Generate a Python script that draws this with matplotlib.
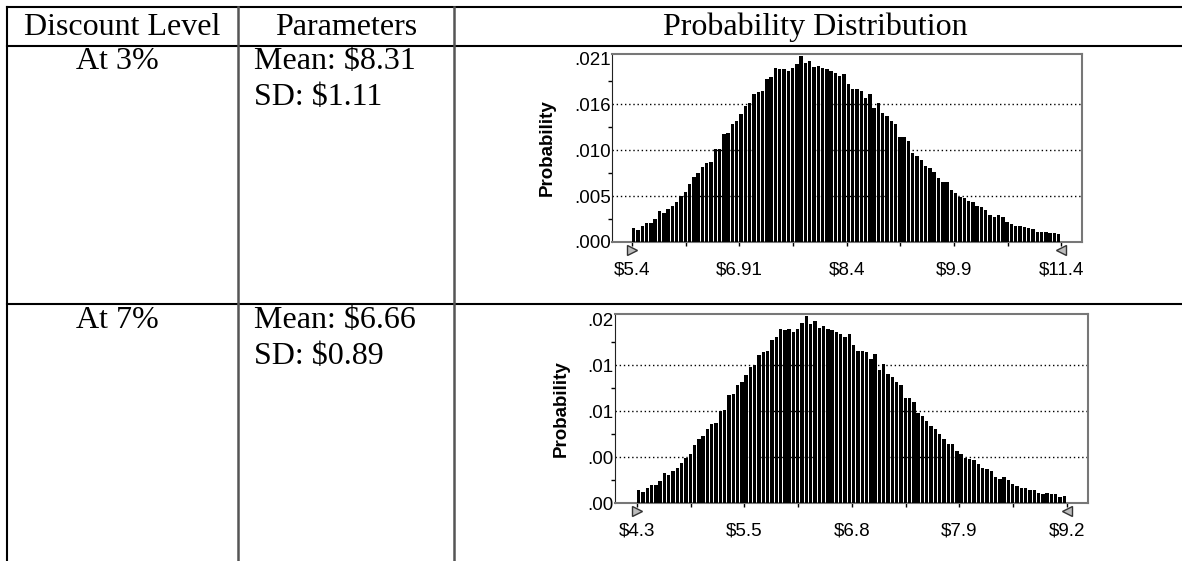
import numpy as np
import matplotlib.pyplot as plt
from matplotlib.transforms import offset_copy

# table text
headers = ['Discount Level', 'Parameters', 'Probability Distribution']
levels = ['At 3%', 'At 7%']
means = ['Mean: $8.31', 'Mean: $6.66']
sds = ['SD: $1.11', 'SD: $0.89']

# chart 1 : at 3%
x_lo_1, x_hi_1 = 5.4, 11.4
xticklabels_1 = ['$5.4', '', '$6.91', '', '$8.4', '', '$9.9', '', '$11.4']
yticklabels_1 = ['.000', '.005', '.010', '.016', '.021']
ystep_1 = 0.0052
probs_1 = [0.00155, 0.00136, 0.00184, 0.00215, 0.00215, 0.00260, 0.00354, 0.00324, 0.00370, 0.00410,
           0.00456, 0.00524, 0.00561, 0.00652, 0.00738, 0.00776, 0.00844, 0.00896, 0.00908, 0.01051,
           0.01051, 0.01217, 0.01235, 0.01334, 0.01371, 0.01446, 0.01537, 0.01567, 0.01672, 0.01699,
           0.01710, 0.01838, 0.01861, 0.01963, 0.01951, 0.01957, 0.01936, 0.01963, 0.02011, 0.02102,
           0.02019, 0.02049, 0.01981, 0.01989, 0.01963, 0.01951, 0.01936, 0.01907, 0.01877, 0.01899,
           0.01783, 0.01726, 0.01726, 0.01707, 0.01631, 0.01673, 0.01511, 0.01568, 0.01462, 0.01428,
           0.01371, 0.01334, 0.01183, 0.01183, 0.01142, 0.01003, 0.00976, 0.00927, 0.00863, 0.00833,
           0.00788, 0.00727, 0.00675, 0.00675, 0.00588, 0.00550, 0.00505, 0.00494, 0.00467, 0.00449,
           0.00410, 0.00399, 0.00362, 0.00305, 0.00286, 0.00305, 0.00279, 0.00230, 0.00203, 0.00184,
           0.00184, 0.00173, 0.00155, 0.00147, 0.00117, 0.00110, 0.00117, 0.00105, 0.00105, 0.00085]

# chart 2 : at 7%
x_lo_2, x_hi_2 = 4.3, 9.2
xticklabels_2 = ['$4.3', '', '$5.5', '', '$6.8', '', '$7.9', '', '$9.2']
yticklabels_2 = ['.00', '.00', '.01', '.01', '.02']
ystep_2 = 0.0048
probs_2 = [0.00133, 0.00115, 0.00160, 0.00191, 0.00191, 0.00230, 0.00316, 0.00289, 0.00331, 0.00368,
           0.00417, 0.00473, 0.00514, 0.00602, 0.00671, 0.00699, 0.00769, 0.00821, 0.00838, 0.00957,
           0.00967, 0.01124, 0.01134, 0.01234, 0.01263, 0.01333, 0.01419, 0.01437, 0.01548, 0.01576,
           0.01586, 0.01698, 0.01732, 0.01816, 0.01802, 0.01816, 0.01788, 0.01816, 0.01878, 0.01948,
           0.01871, 0.01899, 0.01829, 0.01844, 0.01819, 0.01802, 0.01784, 0.01760, 0.01732, 0.01760,
           0.01646, 0.01586, 0.01586, 0.01576, 0.01506, 0.01552, 0.01391, 0.01447, 0.01343, 0.01315,
           0.01263, 0.01234, 0.01096, 0.01096, 0.01054, 0.00942, 0.00908, 0.00853, 0.00800, 0.00769,
           0.00723, 0.00671, 0.00613, 0.00613, 0.00543, 0.00514, 0.00470, 0.00456, 0.00446, 0.00410,
           0.00368, 0.00352, 0.00331, 0.00271, 0.00254, 0.00271, 0.00243, 0.00201, 0.00174, 0.00160,
           0.00160, 0.00133, 0.00133, 0.00104, 0.00091, 0.00107, 0.00091, 0.00091, 0.00063, 0.00073]

W, H = 1182, 561
fig = plt.figure(figsize=(W / 100, H / 100), dpi=100)

# background axes in pixel units for the table
bg = fig.add_axes([0, 0, 1, 1])
bg.set_xlim(0, W)
bg.set_ylim(H, 0)
bg.axis('off')

serif = 'Liberation Serif'
bg.plot([7, W], [7, 7], color='black', lw=1.5)
bg.plot([7, W], [46, 46], color='black', lw=1.5)
bg.plot([7, W], [304, 304], color='black', lw=1.5)
bg.plot([7, 7], [7, H], color='black', lw=1.5)
bg.plot([238, 238], [7, H], color='#555555', lw=1.8)
bg.plot([454, 454], [7, H], color='#555555', lw=1.8)

for x, t in zip([122, 346, 815], headers):
    bg.text(x, 27, t, family=serif, fontsize=23, ha='center', va='center')
for i, row_y in enumerate([61, 320]):
    bg.text(117, row_y, levels[i], family=serif, fontsize=23, ha='center', va='center')
    bg.text(254, row_y, means[i], family=serif, fontsize=23, ha='left', va='center')
    bg.text(254, row_y + 36, sds[i], family=serif, fontsize=23, ha='left', va='center')


def draw_hist(rect, probs, lo, hi, xlim, ystep, ytop, xlabels, ylabels):
    ax = fig.add_axes(rect)
    n = len(probs)
    edges = np.linspace(lo, hi, n + 1)
    w = (hi - lo) / n
    ax.bar(edges[:-1], probs, width=w * 0.8, align='edge', color='black',
           edgecolor='none', zorder=3)
    ax.set_xlim(*xlim)
    ax.set_ylim(0, ytop)
    yt = np.arange(5) * ystep
    ax.set_yticks(yt)
    ax.set_yticklabels(ylabels)
    ax.set_yticks(yt[:-1] + ystep / 2, minor=True)
    for g in yt[1:4]:
        ax.axhline(g, color='black', lw=1.0, ls=(0, (1, 2)), zorder=1)
    xt = np.linspace(lo, hi, 9)
    ax.set_xticks(xt)
    ax.set_xticklabels(xlabels)
    ax.tick_params(axis='x', length=3, width=1, pad=11, labelsize=13.5, direction='out')
    ax.tick_params(axis='y', which='major', length=0, pad=1, labelsize=13.5)
    ax.tick_params(axis='y', which='minor', length=3, width=1)
    for lab in ax.get_xticklabels() + ax.get_yticklabels():
        lab.set_family('Liberation Sans')
    for s in ['top', 'right']:
        ax.spines[s].set_color('#777777')
        ax.spines[s].set_linewidth(1.5)
    ax.spines['left'].set_color('#222222')
    ax.spines['bottom'].set_color('#777777')
    ax.spines['bottom'].set_linewidth(1.5)
    ax.set_ylabel('Probability', family='Liberation Sans', fontweight='bold',
                  fontsize=13.5, labelpad=13)
    tr = offset_copy(ax.transData, fig=fig, y=-8, units='dots')
    ax.plot([lo], [0], marker='>', ms=7, color='#bbbbbb', mec='#333333', mew=1,
            transform=tr, clip_on=False, zorder=5)
    ax.plot([hi], [0], marker='<', ms=7, color='#bbbbbb', mec='#333333', mew=1,
            transform=tr, clip_on=False, zorder=5)
    return ax


draw_hist([612 / W, 1 - 242 / H, 470 / W, 188 / H], probs_1, x_lo_1, x_hi_1,
          (5.12, 11.69), ystep_1, ystep_1 * 4.087, xticklabels_1, yticklabels_1)
draw_hist([615 / W, 1 - 503 / H, 473 / W, 189 / H], probs_2, x_lo_2, x_hi_2,
          (4.05, 9.44), ystep_2, ystep_2 * 4.109, xticklabels_2, yticklabels_2)

fig.savefig('out.png', dpi=100)
